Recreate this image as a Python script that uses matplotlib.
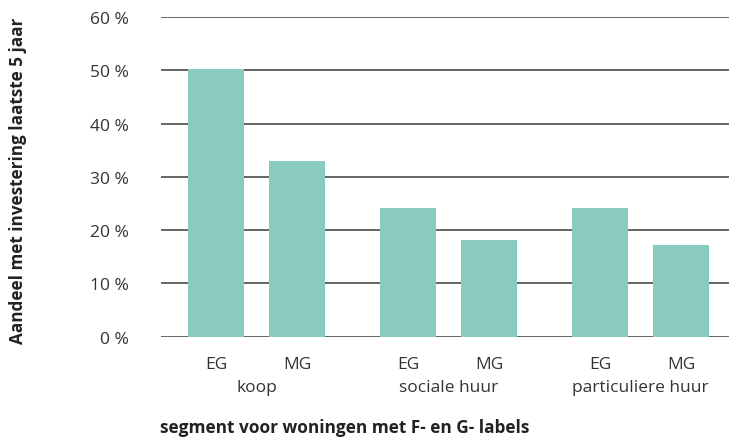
import matplotlib
matplotlib.use("Agg")
import matplotlib.pyplot as plt
import matplotlib.transforms as mtransforms
import numpy as np

# Share of dwellings with an investment in the last 5 years, per segment
segments = ["koop", "sociale huur", "particuliere huur"]
types = ["EG", "MG"]
eg_values = [50.3, 24.1, 24.1]
mg_values = [33.0, 18.1, 17.2]
y_ticks = [0, 10, 20, 30, 40, 50, 60]
y_tick_labels = [f"{v} %" for v in y_ticks]
y_label = "Aandeel met investering laatste 5 jaar"
x_label = "segment voor woningen met F- en G- labels"

W, H = 731, 439
fig = plt.figure(figsize=(W / 100, H / 100), dpi=100)
plt.rcParams["font.family"] = ["Open Sans", "DejaVu Sans"]

left_px, right_px = 161, 729
top_px, bottom_px = 18, 337.7
ax = fig.add_axes([left_px / W, 1 - bottom_px / H,
                   (right_px - left_px) / W, (bottom_px - top_px) / H])

bar_color = "#89cbbf"
group_step = 2.37
bar_w = 0.68
group_centers = np.arange(len(segments)) * group_step
eg_x = group_centers
mg_x = group_centers + 1.0

ax.bar(eg_x, eg_values, width=bar_w, color=bar_color, zorder=3)
ax.bar(mg_x, mg_values, width=bar_w, color=bar_color, zorder=3)

ax.set_ylim(0, 60)
ax.set_xlim(-0.679, 6.333)
ax.set_yticks(y_ticks)
ax.set_yticklabels(y_tick_labels, fontsize=12.5, color="#333333")
ax.yaxis.grid(True, color="#4a4a4a", linewidth=1.2, zorder=1)
ax.set_axisbelow(True)
for s in ax.spines.values():
    s.set_visible(False)
ax.tick_params(axis="y", length=0, pad=23)
ax.tick_params(axis="x", length=0, pad=14)

xt = np.concatenate([eg_x, mg_x])
xl = [types[0]] * len(segments) + [types[1]] * len(segments)
ax.set_xticks(xt)
ax.set_xticklabels(xl, fontsize=12.5, color="#333333")

# Segment names under each pair of bars
trans = mtransforms.blended_transform_factory(ax.transData, fig.transFigure)
for c, name in zip(group_centers + 0.5, segments):
    ax.text(c, 1 - 388 / H, name, transform=trans, ha="center", va="center",
            fontsize=12.5, color="#333333")

fig.text(160 / W, 1 - 428 / H, x_label, ha="left", va="center",
         fontsize=12.4, fontweight="bold", color="#222222")
fig.text(18 / W, 1 - 181 / H, y_label, ha="center", va="center",
         rotation=90, fontsize=12.3, fontweight="bold", color="#222222")

fig.savefig("out.png", dpi=100)
